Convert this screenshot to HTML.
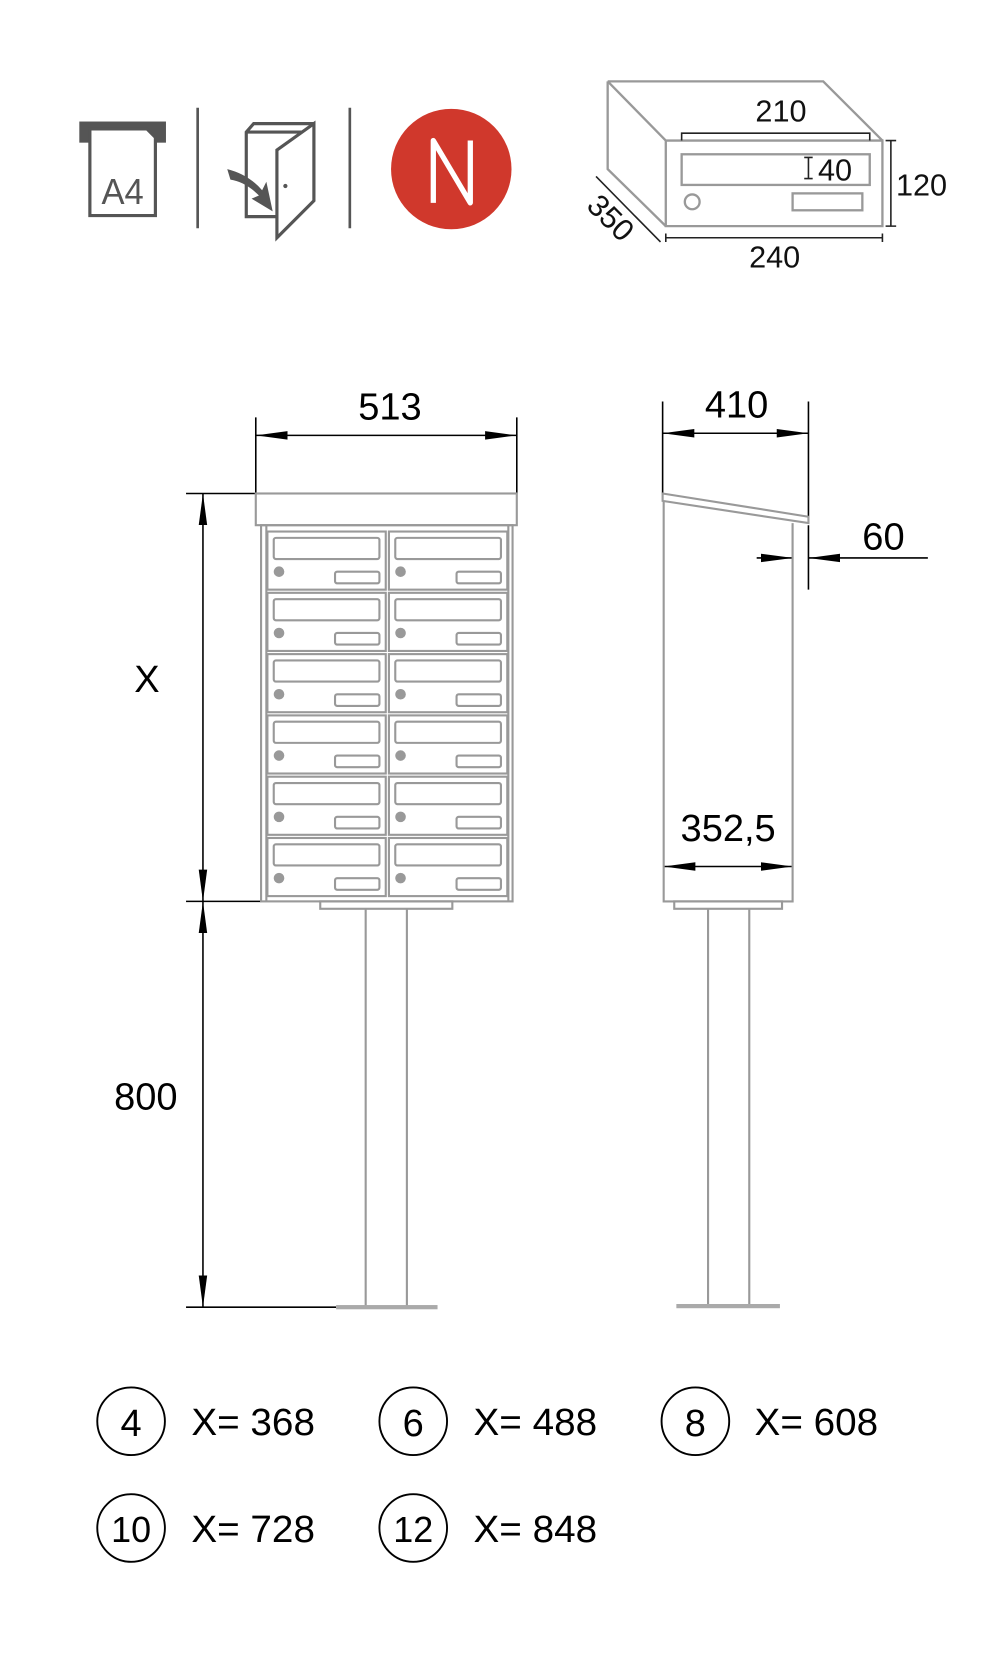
<!DOCTYPE html>
<html><head><meta charset="utf-8"><style>html,body{margin:0;padding:0;background:#fff}svg{display:block}</style></head><body>
<svg width="1004" height="1658" viewBox="0 0 950 1569" xmlns="http://www.w3.org/2000/svg" font-family="Liberation Sans, sans-serif">
<defs>
<marker id="b" viewBox="0 0 30 10" refX="30" refY="5" markerWidth="30" markerHeight="10" orient="auto-start-reverse" markerUnits="userSpaceOnUse"><path d="M0,1L30,5L0,9z" fill="#000"/></marker>
<g id="mb" fill="none" stroke="#999" stroke-width="2">
<rect x="0" y="0" width="112" height="55"/>
<rect x="6" y="6" width="100" height="20" rx="2"/>
<circle cx="11" cy="38" r="5" fill="#999" stroke="none"/>
<rect x="64" y="38" width="42" height="11" rx="2"/>
</g>
</defs>
<rect x="75" y="115" width="82" height="20" fill="#555"/>
<path d="M85,122V204H147V130L139,122Z" fill="#fff" stroke="#555" stroke-width="3"/>
<text x="116" y="193" font-size="34" text-anchor="middle" fill="#555" textLength="40" lengthAdjust="spacingAndGlyphs">A4</text>
<line x1="187" y1="102" x2="187" y2="216" stroke="#555" stroke-width="2.5"/>
<line x1="331" y1="102" x2="331" y2="216" stroke="#555" stroke-width="2.5"/>
<g fill="none" stroke="#555" stroke-width="3">
<path d="M233,205V125L240,117H297V185L277,205Z"/>
<path d="M233,125H290V190"/>
<path d="M262,142L297,117V190L262,225Z" fill="#fff"/>
</g>
<circle cx="270" cy="176" r="2" fill="#555"/>
<path d="M215,160Q235,165 248,180L252,172L258,200L238,188L245,185Q232,172 218,170Z" fill="#555"/>
<circle cx="427" cy="160" r="57" fill="#d0382c"/>
<path d="M410,192V133L445,192V133" fill="none" stroke="#fff" stroke-width="5" stroke-linejoin="round"/>
<g fill="none" stroke="#999" stroke-width="2.2">
<path d="M575,77H779L835,133"/>
<path d="M575,77L630,133H835V214H630V133"/>
<path d="M575,77V160L630,214"/>
<rect x="645" y="146" width="178" height="29"/>
<circle cx="655" cy="191" r="7"/>
<rect x="750" y="183" width="66" height="16"/>
</g>
<g stroke="#222" stroke-width="1.5" fill="none">
<path d="M645,133V126H823V133"/>
<path d="M838,133H848M843,133V214M838,214H848"/>
<path d="M630,221V229M630,225H835M835,221V229"/>
<path d="M564,167L625,229"/>
<path d="M765,149V169M761,149H769M761,169H769"/>
</g>
<g font-size="29" fill="#111">
<text x="739" y="115" text-anchor="middle">210</text>
<text x="774" y="171">40</text>
<text x="872" y="185" text-anchor="middle">120</text>
<text x="733" y="253" text-anchor="middle">240</text>
<text transform="translate(578,206) rotate(45)" text-anchor="middle" y="10">350</text>
</g>
<g stroke="#000" stroke-width="1.5" fill="none">
<path d="M242,395V467M489,395V467"/>
<line x1="242" y1="412" x2="489" y2="412" marker-start="url(#b)" marker-end="url(#b)"/>
<path d="M176,467H245M176,853H247M176,1237H318"/>
<line x1="192" y1="467" x2="192" y2="853" marker-start="url(#b)" marker-end="url(#b)"/>
<line x1="192" y1="853" x2="192" y2="1237" marker-start="url(#b)" marker-end="url(#b)"/>
</g>
<g fill="none" stroke="#999" stroke-width="2">
<rect x="242" y="467" width="247" height="30"/>
<rect x="247" y="497" width="238" height="356"/>
<path d="M252,497V853M481,497V853"/>
<rect x="303" y="853" width="125" height="7"/>
<path d="M346,860V1237M385,860V1237"/>
</g>
<rect x="318" y="1235" width="96" height="4" fill="#aaa"/>
<use href="#mb" x="253" y="503"/><use href="#mb" x="368" y="503"/>
<use href="#mb" x="253" y="561"/><use href="#mb" x="368" y="561"/>
<use href="#mb" x="253" y="619"/><use href="#mb" x="368" y="619"/>
<use href="#mb" x="253" y="677"/><use href="#mb" x="368" y="677"/>
<use href="#mb" x="253" y="735"/><use href="#mb" x="368" y="735"/>
<use href="#mb" x="253" y="793"/><use href="#mb" x="368" y="793"/>
<g font-size="36" fill="#000" text-anchor="middle">
<text x="369" y="397">513</text>
<text x="139" y="655">X</text>
<text x="138" y="1050">800</text>
<text x="697" y="395">410</text>
<text x="836" y="520">60</text>
<text x="689" y="796">352,5</text>
</g>
<g stroke="#000" stroke-width="1.5" fill="none">
<path d="M627,380V467M765,380V495"/>
<line x1="627" y1="410" x2="765" y2="410" marker-start="url(#b)" marker-end="url(#b)"/>
<path d="M750,497V558M765,497V558"/>
<line x1="716" y1="528" x2="750" y2="528" marker-end="url(#b)"/>
<line x1="878" y1="528" x2="765" y2="528" marker-end="url(#b)"/>
<line x1="628" y1="820" x2="750" y2="820" marker-start="url(#b)" marker-end="url(#b)"/>
</g>
<g fill="none" stroke="#999" stroke-width="2">
<path d="M627,467L765,489V495L627,474Z"/>
<path d="M628,474V853H750V495"/>
<rect x="638" y="853" width="102" height="7"/>
<path d="M670,860V1236M709,860V1236"/>
</g>
<rect x="640" y="1234" width="98" height="4" fill="#aaa"/>
<g fill="none" stroke="#000" stroke-width="1.8">
<ellipse cx="124" cy="1345" rx="32" ry="32"/>
<ellipse cx="391" cy="1345" rx="32" ry="32"/>
<ellipse cx="658" cy="1345" rx="32" ry="32"/>
<ellipse cx="124" cy="1446" rx="32" ry="32"/>
<ellipse cx="391" cy="1446" rx="32" ry="32"/>
</g>
<g font-size="36" fill="#000">
<text x="124" y="1359" text-anchor="middle">4</text>
<text x="391" y="1359" text-anchor="middle">6</text>
<text x="658" y="1359" text-anchor="middle">8</text>
<text x="124" y="1459" text-anchor="middle" font-size="34">10</text>
<text x="391" y="1459" text-anchor="middle" font-size="34">12</text>
<text x="181" y="1358" textLength="117" lengthAdjust="spacingAndGlyphs">X= 368</text>
<text x="448" y="1358" textLength="117" lengthAdjust="spacingAndGlyphs">X= 488</text>
<text x="714" y="1358" textLength="117" lengthAdjust="spacingAndGlyphs">X= 608</text>
<text x="181" y="1459" textLength="117" lengthAdjust="spacingAndGlyphs">X= 728</text>
<text x="448" y="1459" textLength="117" lengthAdjust="spacingAndGlyphs">X= 848</text>
</g>
</svg>
</body></html>
